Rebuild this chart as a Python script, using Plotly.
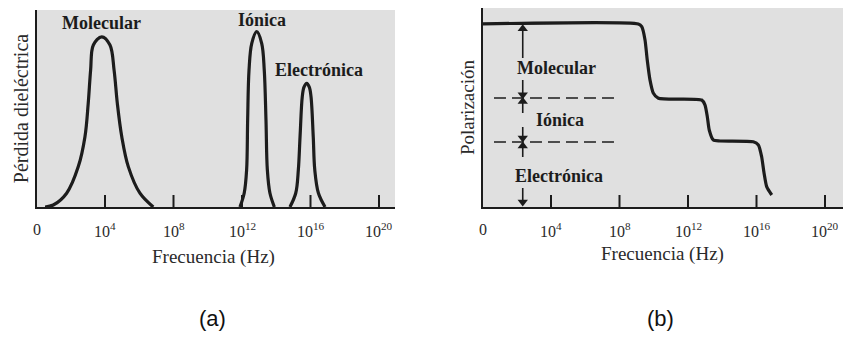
import plotly.graph_objects as go

# ---- data (x = log10 of frequency, y = arbitrary units) ----
mol_x = [0.50, 0.98, 1.76, 2.44, 2.83, 3.02, 3.16, 3.32, 3.81, 4.29, 4.53, 4.72, 4.98, 5.36, 6.04, 6.82]
mol_y = [0.0, 1.0, 7.0, 20.5, 35.7, 52.6, 69.5, 82.2, 86.4, 82.2, 69.5, 52.6, 35.7, 20.5, 7.0, 0.0]

ion_x = [11.88, 12.13, 12.27, 12.33, 12.41, 12.57, 12.86, 13.15, 13.30, 13.40, 13.48, 13.63, 13.89]
ion_y = [0.0, 7.1, 18.8, 44.2, 69.5, 83.1, 89.0, 83.1, 69.5, 44.2, 18.8, 7.1, 0.0]

ele_x = [14.80, 15.14, 15.29, 15.39, 15.52, 15.62, 15.78, 15.93, 16.03, 16.16, 16.25, 16.46, 16.85]
ele_y = [0.0, 7.1, 18.8, 35.7, 56.0, 60.9, 62.8, 60.9, 56.0, 35.7, 18.8, 7.1, 0.0]

pol_x = [0.0, 9.10, 9.30, 9.49, 9.62, 9.78, 9.97, 10.27, 12.80, 12.99, 13.13, 13.24, 13.48, 13.87,
         15.81, 16.11, 16.30, 16.44, 16.60, 16.89]
pol_y = [92.9, 92.9, 91.5, 84.8, 74.6, 64.5, 57.9, 55.2, 54.3, 51.8, 45.7, 39.1, 34.0, 33.5,
         33.1, 31.5, 25.5, 17.3, 10.2, 6.1]

level_x = [0.67, 7.91]
level_mol_ion = [55.3, 55.3]
level_ion_ele = [33.0, 33.0]

# vertical double-arrow segments in panel (b): (tip, tail) pairs
arrow_x = 2.35
arrow_tips = [90.5, 57.0, 53.5, 35.0, 31.0, 2.5]
arrow_tails = [75.6, 64.5, 47.7, 40.6, 25.4, 9.6]

tick_vals = [0, 4, 8, 12, 16, 20]
tick_text = ["0", "10<sup>4</sup>", "10<sup>8</sup>", "10<sup>12</sup>", "10<sup>16</sup>", "10<sup>20</sup>"]

peak_labels = ["Molecular", "Iónica", "Electrónica"]
peak_label_x = [3.81, 13.17, 16.5]
peak_label_y = [93.4, 94.9, 69.5]

region_labels = ["Molecular", "Iónica", "Electrónica"]
region_label_x = [4.33, 4.53, 4.49]
region_label_y = [70.6, 44.2, 15.7]

SERIF = "Liberation Serif"
INK = "#1c1c1c"
TXT = "#2a2a2a"
BG = "#e0e0e0"
TICK_LEN = 6.1  # inside tick length in y units (about 12 px)

fig = go.Figure()
line = dict(color=INK, width=3.2, shape="spline", smoothing=1.0)
for xs, ys in [(mol_x, mol_y), (ion_x, ion_y), (ele_x, ele_y)]:
    fig.add_trace(go.Scatter(x=xs, y=ys, mode="lines", line=line, xaxis="x", yaxis="y",
                             showlegend=False, hoverinfo="skip"))

fig.add_trace(go.Scatter(x=pol_x, y=pol_y, mode="lines",
                         line=dict(color=INK, width=3.2, shape="spline", smoothing=0.6),
                         xaxis="x2", yaxis="y2", showlegend=False, hoverinfo="skip"))
for lv in [level_mol_ion, level_ion_ele]:
    fig.add_trace(go.Scatter(x=level_x, y=lv, mode="lines",
                             line=dict(color=INK, width=1.6, dash="12px,6px"),
                             xaxis="x2", yaxis="y2", showlegend=False, hoverinfo="skip"))

# arrows: shaft + triangular head
for tip, tail in zip(arrow_tips, arrow_tails):
    up = tip > tail
    fig.add_trace(go.Scatter(x=[arrow_x, arrow_x], y=[tail, tip], mode="lines",
                             line=dict(color=INK, width=1.6), xaxis="x2", yaxis="y2",
                             showlegend=False, hoverinfo="skip"))
    fig.add_trace(go.Scatter(x=[arrow_x], y=[tip], mode="markers",
                             marker=dict(symbol="triangle-up" if up else "triangle-down", size=9,
                                         color=INK, line=dict(width=0)),
                             xaxis="x2", yaxis="y2", showlegend=False, hoverinfo="skip"))

# inside tick marks on each panel's x scale
for xa, ya in [("x", "y"), ("x2", "y2")]:
    tx, ty = [], []
    for v in tick_vals[1:]:
        tx += [v, v, None]
        ty += [0, TICK_LEN, None]
    fig.add_trace(go.Scatter(x=tx, y=ty, mode="lines", line=dict(color=INK, width=2),
                             xaxis=xa, yaxis=ya, showlegend=False, hoverinfo="skip",
                             connectgaps=False))

W, H = 843, 341
ybot = 1 - 207 / H
dom_a = [36.5 / W, 395 / W]
rng_a = [0, (395 - 36.5) / 17.125]
dom_b = [482.5 / W, 1.0]
rng_b = [0, (W - 482.5) / 17.125]

xcommon = dict(tickmode="array", tickvals=tick_vals, ticks="", showline=True, linecolor=INK,
               linewidth=2, showgrid=False, zeroline=False, showticklabels=False)
ycommon = dict(showline=True, linecolor=INK, linewidth=2, showgrid=False, zeroline=False,
               showticklabels=False, ticks="")

annotations = []
# tick labels placed on the x scale of each panel
for xref in ["x", "x2"]:
    for v, t in zip(tick_vals, tick_text):
        annotations.append(dict(x=v, y=1 - 230 / H, xref=xref, yref="paper", text=t,
                                showarrow=False, xanchor="center", yanchor="middle",
                                font=dict(family=SERIF, size=16, color=TXT)))
annotations.append(dict(x=213 / W, y=1 - 257 / H, xref="paper", yref="paper",
                        text="Frecuencia (Hz)", showarrow=False, xanchor="center", yanchor="middle",
                        font=dict(family=SERIF, size=19, color=TXT)))
annotations.append(dict(x=662 / W, y=1 - 254 / H, xref="paper", yref="paper",
                        text="Frecuencia (Hz)", showarrow=False, xanchor="center", yanchor="middle",
                        font=dict(family=SERIF, size=19, color=TXT)))

for t, x, y in zip(peak_labels, peak_label_x, peak_label_y):
    annotations.append(dict(x=x, y=y, xref="x", yref="y", text="<b>" + t + "</b>", showarrow=False,
                            font=dict(family=SERIF, size=18, color=INK)))
for t, x, y in zip(region_labels, region_label_x, region_label_y):
    annotations.append(dict(x=x, y=y, xref="x2", yref="y2", text="<b>" + t + "</b>", showarrow=False,
                            font=dict(family=SERIF, size=18, color=INK)))

annotations.append(dict(x=212 / W, y=1 - 318 / H, xref="paper", yref="paper", text="(a)",
                        showarrow=False, xanchor="center", yanchor="middle",
                        font=dict(family="Liberation Sans", size=22, color="#111")))
annotations.append(dict(x=660 / W, y=1 - 318 / H, xref="paper", yref="paper", text="(b)",
                        showarrow=False, xanchor="center", yanchor="middle",
                        font=dict(family="Liberation Sans", size=22, color="#111")))

fig.update_layout(
    template="none",
    width=W, height=H, margin=dict(l=0, r=0, t=0, b=0),
    paper_bgcolor="white", plot_bgcolor=BG,
    xaxis=dict(domain=dom_a, range=rng_a, anchor="y", **xcommon),
    yaxis=dict(domain=[ybot, 1 - 10 / H], range=[0, 100], anchor="x",
               title=dict(text="Pérdida dieléctrica", font=dict(family=SERIF, size=20, color=TXT),
                          standoff=1), **ycommon),
    xaxis2=dict(domain=dom_b, range=rng_b, anchor="y2", **xcommon),
    yaxis2=dict(domain=[ybot, 1 - 8 / H], range=[0, 101], anchor="x2",
                title=dict(text="Polarización", font=dict(family=SERIF, size=19, color=TXT),
                           standoff=1), **ycommon),
    annotations=annotations,
)

fig.write_html("out.html")
